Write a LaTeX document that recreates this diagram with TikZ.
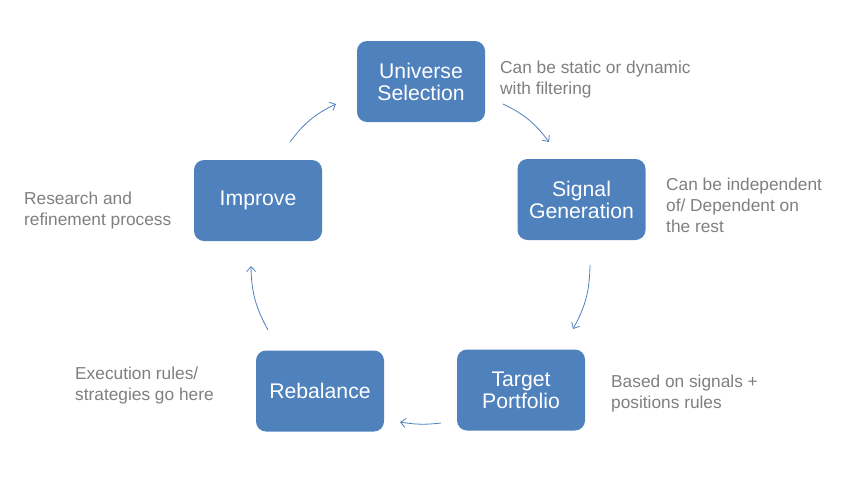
\documentclass[tikz,border=0pt]{standalone}
\usepackage{fontspec}
\setmainfont{Liberation Sans}
\usetikzlibrary{arrows.meta}
\definecolor{boxblue}{HTML}{4F81BD}
\definecolor{notegray}{HTML}{7F7F7F}
\tikzset{
  stepbox/.style={fill=boxblue, draw=none, rounded corners=10pt, minimum width=128pt, minimum height=81pt,
    text=white, font=\fontsize{21.2}{22}\selectfont, align=center, inner sep=0pt},
  note/.style={text=notegray, font=\fontsize{17.3}{21}\selectfont, align=left, anchor=west, inner sep=0pt},
  flow/.style={draw=boxblue, line width=0.8pt, -{Straight Barb[length=5pt,width=9pt]}}
}
\begin{document}
\begin{tikzpicture}[x=1pt,y=-1pt]
\useasboundingbox (0,0) rectangle (843,490);
\node[stepbox] (us) at (421,81.5) {Universe\\Selection};
\node[stepbox] (sg) at (581.5,199.5) {Signal\\Generation};
\node[stepbox] (tp) at (521,390) {Target\\Portfolio};
\node[stepbox] (rb) at (320,391) {Rebalance};
\node[stepbox] (im) at (258,200.5) {Improve};

\node[note] (nus) at (500,80) {Can be static or dynamic\\with filtering};
\node[note] (nsg) at (666,205.5) {Can be independent\\of/ Dependent on\\the rest};
\node[note] (ntp) at (611,394) {Based on signals +\\positions rules};
\node[note] (nrb) at (75,386) {Execution rules/\\strategies go here};
\node[note] (nim) at (24,210.5) {Research and\\refinement process};

\coordinate (a1s) at (290,142); \coordinate (a1e) at (336,104);
\coordinate (a2s) at (503,104); \coordinate (a2e) at (549,142);
\coordinate (a3s) at (590,265); \coordinate (a3e) at (573,329);
\coordinate (a4s) at (441,423); \coordinate (a4e) at (400,422);
\coordinate (a5s) at (268,330); \coordinate (a5e) at (251,266);

\draw[flow] (a1s) to[bend left=14] (a1e);
\draw[flow] (a2s) to[bend left=14] (a2e);
\draw[flow] (a3s) to[bend left=14] (a3e);
\draw[flow] (a4s) to[bend left=8] (a4e);
\draw[flow] (a5s) to[bend left=14] (a5e);
\end{tikzpicture}
\end{document}
